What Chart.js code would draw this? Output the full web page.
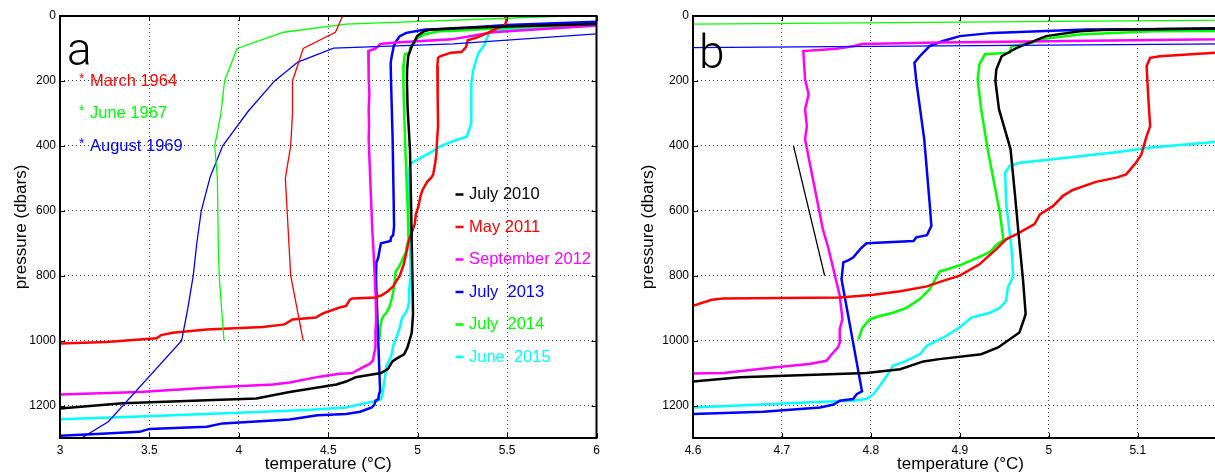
<!DOCTYPE html>
<html>
<head>
<meta charset="utf-8">
<script src="https://cdn.jsdelivr.net/npm/chart.js@4.4.1/dist/chart.umd.min.js"></script>
<style>
html, body { margin: 0; padding: 0; background: #fff; overflow: hidden; }
#wrap { position: relative; width: 1215px; height: 476px; overflow: hidden; }
#chartA { position: absolute; left: 0; top: 0; }
#chartB { position: absolute; left: 610px; top: 0; }
</style>
</head>
<body>
<div id="wrap">
  <canvas id="chartA" width="610" height="476"></canvas>
  <canvas id="chartB" width="630" height="476"></canvas>
</div>
<script>
// [temperature °C, pressure dbar], surface to bottom
const march1964 = [[4.58,0],[4.54,50],[4.36,100],[4.30,200],[4.30,300],[4.29,400],[4.26,500],[4.29,800],[4.36,1000]];
const june1967 = [[5.83,0],[4.6,25],[4.25,50],[3.99,100],[3.92,200],[3.90,300],[3.865,400],[3.88,500],[3.885,700],[3.89,800],[3.917,1000]];
const august1969 = [[6.0,55],[5.2,86],[4.53,99],[4.33,142],[4.20,200],[4.05,295],[3.91,400],[3.84,495],[3.79,600],[3.765,700],[3.745,800],[3.715,900],[3.68,1000],[3.27,1250],[3.12,1300]];

const july2010 = [[6.0,25],[5.5,32],[5.19,38],[5.06,43],[5.035,47],[4.997,62],[4.964,98],[4.947,124],[4.941,165],[4.940,200],[4.944,287],[4.957,410],[4.962,550],[4.966,670],[4.971,811],[4.974,918],[4.972,935],[4.967,975],[4.943,1021],[4.924,1042],[4.877,1057],[4.859,1064],[4.833,1088],[4.795,1100],[4.728,1106],[4.653,1113],[4.6,1126],[4.546,1135],[4.284,1158],[4.098,1178],[3.35,1193],[3.0,1209]];
const may2011 = [[5.487,0],[5.497,14],[5.487,29],[5.44,39],[5.40,50],[5.338,65],[5.28,75],[5.27,96],[5.245,111],[5.187,113],[5.125,124],[5.114,129],[5.110,154],[5.112,257],[5.114,339],[5.110,370],[5.104,427],[5.098,452],[5.087,488],[5.076,498],[5.053,511],[5.027,536],[5.016,554],[5.005,585],[4.99,611],[4.984,641],[4.964,672],[4.952,688],[4.941,718],[4.922,765],[4.9,800],[4.881,816],[4.863,833],[4.833,848],[4.803,859],[4.765,867],[4.634,870],[4.621,874],[4.6,893],[4.564,898],[4.47,916],[4.43,929],[4.30,935],[4.256,950],[4.135,958],[3.82,966],[3.63,976],[3.566,983],[3.54,993],[3.26,1004],[3.0,1009]];
const sep2012 = [[6.0,29],[5.42,50],[5.19,72],[4.877,82],[4.79,86],[4.78,93],[4.761,101],[4.724,108],[4.726,195],[4.73,241],[4.726,288],[4.728,339],[4.726,380],[4.746,657],[4.752,713],[4.765,862],[4.768,934],[4.765,965],[4.765,1006],[4.763,1021],[4.756,1042],[4.75,1062],[4.731,1072],[4.69,1083],[4.634,1100],[4.6,1101],[4.564,1102],[4.452,1111],[4.284,1129],[4.19,1135],[3.82,1145],[3.445,1158],[3.0,1166]];
const july2013 = [[6.0,18],[5.5,28],[5.187,39],[5.042,41.5],[4.937,52],[4.9,62],[4.881,77],[4.866,93],[4.855,124],[4.849,144],[4.851,200],[4.86,380],[4.866,575],[4.868,647],[4.863,675],[4.851,682],[4.848,693],[4.795,700],[4.788,718],[4.78,744],[4.775,752],[4.769,759],[4.767,811],[4.79,1156],[4.784,1165],[4.78,1180],[4.765,1185],[4.758,1197],[4.743,1206],[4.679,1219],[4.6,1226],[4.44,1230],[4.284,1243],[3.91,1255],[3.82,1265],[3.50,1272],[3.445,1281],[3.258,1286],[3.0,1293]];
const july2014 = [[6.0,25],[5.5,36],[5.187,46],[5.117,47],[5.035,57],[4.99,72],[4.982,82],[4.958,93],[4.956,113],[4.928,118],[4.922,149],[4.92,195],[4.924,288],[4.932,421],[4.945,606],[4.949,690],[4.941,705],[4.934,727],[4.922,742],[4.9,768],[4.877,788],[4.866,842],[4.855,872],[4.84,899],[4.825,914],[4.81,924],[4.799,934],[4.79,962],[4.786,997]];
const june2015 = [[6.0,30],[5.43,45],[5.40,50],[5.376,86],[5.338,116],[5.31,168],[5.30,208],[5.30,330],[5.275,372],[5.2,385],[5.117,404],[5.08,418],[5.005,441],[4.967,452],[4.956,462],[4.951,482],[4.952,575],[4.958,713],[4.96,801],[4.954,837],[4.952,878],[4.945,899],[4.934,914],[4.913,929],[4.9,959],[4.885,985],[4.863,1016],[4.855,1042],[4.848,1052],[4.836,1067],[4.825,1077],[4.818,1108],[4.81,1139],[4.803,1165],[4.795,1180],[4.78,1185],[4.746,1188],[4.6,1206],[4.378,1214],[4.0,1222],[3.445,1234],[3.0,1242]];
// short black guide line shown only in panel b
const guideLine = [[4.713,400],[4.748,800]];

const xTicksA = [3, 3.5, 4, 4.5, 5, 5.5, 6];
const xTicksB = [4.6, 4.7, 4.8, 4.9, 5, 5.1, 5.2];
const yTicks = [0, 200, 400, 600, 800, 1000, 1200];

const oldLabels = ['March 1964', 'June 1967', 'August 1969'];
const oldColors = ['#ff0000', '#00ff00', '#0000ff'];
const newLabels = ['July 2010', 'May 2011', 'September 2012', 'July  2013', 'July  2014', 'June  2015'];
const newColors = ['#000000', '#ff0000', '#ff00ff', '#0000ff', '#00ff00', '#00ffff'];

const FONT = "'Liberation Sans', Arial, Helvetica, sans-serif";

function series(label, arr, color, width) {
    return {
        label,
        data: arr.map(p => ({ x: p[0], y: p[1] })),
        borderColor: color,
        backgroundColor: color,
        borderWidth: width,
        showLine: true,
        pointRadius: 0,
        tension: 0,
        fill: false
    };
}

function makeDatasets(withGuide) {
    let ds = [
        series(oldLabels[0], march1964, oldColors[0], 1.3),
        series(oldLabels[1], june1967, oldColors[1], 1.3),
        series(oldLabels[2], august1969, oldColors[2], 1.3),
        series(newLabels[0], july2010, newColors[0], 2.5),
        series(newLabels[1], may2011, newColors[1], 2.5),
        series(newLabels[2], sep2012, newColors[2], 2.5),
        series(newLabels[3], july2013, newColors[3], 2.5),
        series(newLabels[4], july2014, newColors[4], 2.5),
        series(newLabels[5], june2015, newColors[5], 2.5)
    ];
    if (withGuide) ds.push(series('guide', guideLine, '#000000', 1.3));
    return ds;
}

// box, inward ticks, panel letter, axis titles and legends
const panelDeco = {
    id: 'panelDeco',
    afterDraw(chart, args, opts) {
        const ctx = chart.ctx;
        const a = chart.chartArea;
        const x = chart.scales.x, y = chart.scales.y;
        ctx.save();
        ctx.strokeStyle = '#000';
        ctx.lineWidth = 1;
        ctx.beginPath();
        x.ticks.forEach(t => {
            const px = Math.round(x.getPixelForValue(t.value)) + 0.5;
            ctx.moveTo(px, a.top); ctx.lineTo(px, a.top + 5);
            ctx.moveTo(px, a.bottom); ctx.lineTo(px, a.bottom - 5);
        });
        y.ticks.forEach(t => {
            const py = Math.round(y.getPixelForValue(t.value)) + 0.5;
            ctx.moveTo(a.left, py); ctx.lineTo(a.left + 5, py);
            ctx.moveTo(a.right, py); ctx.lineTo(a.right - 5, py);
        });
        ctx.stroke();
        ctx.lineWidth = 2;
        ctx.strokeRect(a.left, a.top, a.right - a.left, a.bottom - a.top);

        ctx.fillStyle = '#000';
        ctx.font = "300 46px Roboto, " + FONT;
        ctx.textAlign = 'left';
        ctx.textBaseline = 'alphabetic';
        ctx.fillText(opts.letter, opts.letterX, opts.letterY);

        ctx.font = '17px ' + FONT;
        ctx.textAlign = 'center';
        ctx.textBaseline = 'middle';
        ctx.fillText('temperature (°C)', (a.left + opts.titleRight) / 2, 464);
        ctx.save();
        ctx.translate(opts.yTitleX, (a.top + a.bottom) / 2);
        ctx.rotate(-Math.PI / 2);
        ctx.fillText('pressure (dbars)', 0, 0);
        ctx.restore();

        if (opts.legend) {
            ctx.textAlign = 'left';
            oldLabels.forEach((lab, i) => {
                const yy = 81 + i * 32.5;
                ctx.fillStyle = oldColors[i];
                ctx.font = '14px ' + FONT;
                ctx.fillText('*', 79, yy - 2);
                ctx.font = '16.5px ' + FONT;
                ctx.fillText(lab, 90, yy);
            });
            newLabels.forEach((lab, i) => {
                const yy = 194.5 + i * 32.5;
                ctx.strokeStyle = newColors[i];
                ctx.fillStyle = newColors[i];
                ctx.lineWidth = 2.5;
                ctx.beginPath();
                ctx.moveTo(455.5, yy); ctx.lineTo(463.5, yy);
                ctx.stroke();
                ctx.font = '16.5px ' + FONT;
                ctx.fillText(lab, 469, yy);
            });
        }
        ctx.restore();
    }
};

function makeChart(canvas, cfg) {
    return new Chart(canvas, {
        type: 'scatter',
        data: { datasets: makeDatasets(cfg.guide) },
        plugins: [panelDeco],
        options: {
            responsive: false,
            animation: false,
            events: [],
            layout: { padding: { left: 0, top: 16, right: cfg.padRight, bottom: 0 } },
            plugins: {
                legend: { display: false },
                tooltip: { enabled: false },
                panelDeco: cfg.deco
            },
            scales: {
                x: {
                    type: 'linear',
                    min: cfg.xMin,
                    max: cfg.xMax,
                    afterBuildTicks: s => { s.ticks = cfg.xTicks.map(v => ({ value: v })); },
                    afterFit: s => { s.height = 38; },
                    ticks: {
                        callback: v => String(v),
                        autoSkip: false,
                        maxRotation: 0,
                        padding: 5,
                        color: '#000',
                        font: { family: FONT, size: 12 }
                    },
                    grid: { color: '#3a3a3a', lineWidth: 1, drawTicks: false },
                    border: { display: false, dash: [1, 3] }
                },
                y: {
                    type: 'linear',
                    reverse: true,
                    min: 0,
                    max: 1300,
                    afterBuildTicks: s => { s.ticks = yTicks.map(v => ({ value: v })); },
                    afterFit: s => { s.width = cfg.yWidth; },
                    ticks: {
                        callback: v => String(v),
                        autoSkip: false,
                        padding: 4,
                        color: '#000',
                        font: { family: FONT, size: 12 }
                    },
                    grid: { color: '#3a3a3a', lineWidth: 1, drawTicks: false },
                    border: { display: false, dash: [1, 3] }
                }
            }
        }
    });
}

makeChart(document.getElementById('chartA'), {
    guide: false, xMin: 3, xMax: 6, xTicks: xTicksA, yWidth: 60, padRight: 13.5,
    deco: { letter: 'a', letterX: 67, letterY: 65, yTitleX: 21, titleRight: 596.5, legend: true }
});
makeChart(document.getElementById('chartB'), {
    guide: true, xMin: 4.6, xMax: 5.2, xTicks: xTicksB, yWidth: 83, padRight: 12,
    deco: { letter: 'b', letterX: 89, letterY: 68, yTitleX: 38, titleRight: 618, legend: false }
});
</script>
</body>
</html>
